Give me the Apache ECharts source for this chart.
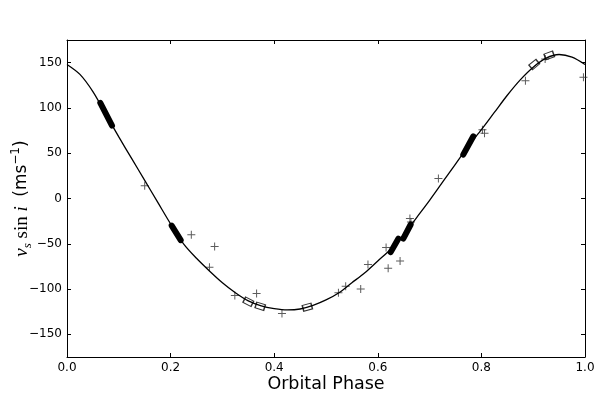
<!DOCTYPE html>
<html>
<head>
<meta charset="utf-8">
<script src="https://cdn.jsdelivr.net/npm/echarts@6/dist/echarts.min.js"></script>
<style>
html, body { margin: 0; padding: 0; background: #fff; }
#chart { width: 598px; height: 398px; }
</style>
</head>
<body>
<div id="chart"></div>
<script>
// orbit model curve
var curvePhase = [0, 0.025, 0.05, 0.075, 0.1, 0.125, 0.15, 0.175, 0.2, 0.225, 0.25, 0.275, 0.3, 0.325, 0.35, 0.375,
  0.4, 0.425, 0.45, 0.475, 0.5, 0.525, 0.55, 0.575, 0.6, 0.625, 0.65, 0.675, 0.7, 0.725, 0.75, 0.775,
  0.8, 0.825, 0.85, 0.875, 0.9, 0.925, 0.95, 0.975, 1.0];
var curveVel = [148, 137, 118, 93, 68, 44, 20, -4, -28, -50, -66, -80, -93, -104, -113, -118.5,
  -121.5, -123, -122, -118, -112, -104, -93, -82, -69, -56, -40, -21, -2, 18, 38, 58,
  76, 95, 114, 131, 145, 155, 159, 156, 148];

// single measurements (+)
var plusPhase = [0.150, 0.240, 0.285, 0.275, 0.324, 0.366, 0.415, 0.524, 0.538, 0.567, 0.581, 0.616,
  0.620, 0.643, 0.662, 0.664, 0.717, 0.802, 0.806, 0.885, 0.923, 0.997];
var plusVel = [14, -40, -53, -76, -107, -105, -127, -104, -97, -100, -73, -54,
  -77, -69, -22, -26, 22, 76, 72, 130, 154, 134];

// open boxes
var boxPhase = [0.350, 0.373, 0.464, 0.902, 0.931];
var boxVel = [-114, -119, -120, 148, 158];

// filled segments: start / end points
var segStartPhase = [0.0643, 0.2021, 0.6249, 0.6492, 0.7650];
var segStartVel = [105.5, -30, -59.2, -44.4, 48.5];
var segEndPhase = [0.0869, 0.2195, 0.6396, 0.6635, 0.7844];
var segEndVel = [80.5, -46, -44.4, -28.7, 68.7];

var xTicks = [0, 0.2, 0.4, 0.6, 0.8, 1.0];
var yTicks = [-150, -100, -50, 0, 50, 100, 150];

function velAt(p) {
  for (var i = 1; i < curvePhase.length; i++) {
    if (p <= curvePhase[i]) {
      var t = (p - curvePhase[i - 1]) / (curvePhase[i] - curvePhase[i - 1]);
      return curveVel[i - 1] + t * (curveVel[i] - curveVel[i - 1]);
    }
  }
  return curveVel[curveVel.length - 1];
}

var chart = echarts.init(document.getElementById('chart'));

var tickStyle = { show: true, inside: true, length: 4, lineStyle: { color: '#000', width: 1 } };
var lineStyle = { show: true, onZero: false, lineStyle: { color: '#000', width: 1 } };
var labelFont = { fontFamily: 'DejaVu Sans', fontSize: 12, color: '#000' };

function yFmt(v) { return v < 0 ? '\u2212' + (-v) : String(v); }

var segSeries = segStartPhase.map(function (p, i) {
  return {
    type: 'line',
    data: [[p, segStartVel[i]], [segEndPhase[i], segEndVel[i]]],
    showSymbol: false,
    lineStyle: { color: '#000', width: 6, cap: 'round' },
    z: 4,
    silent: true
  };
});

var option = {
  animation: false,
  grid: { left: 67, right: 13, top: 40, bottom: 41, outerBoundsMode: 'none', containLabel: false },
  xAxis: [
    {
      type: 'value', min: 0, max: 1, interval: 0.2, position: 'bottom',
      name: 'Orbital Phase', nameLocation: 'middle', nameGap: 18, nameMoveOverlap: false,
      nameTextStyle: { fontFamily: 'DejaVu Sans', fontSize: 17.5, color: '#000' },
      axisLine: lineStyle, axisTick: tickStyle, splitLine: { show: false },
      axisLabel: Object.assign({ margin: 5, formatter: function (v) { return v.toFixed(1); } }, labelFont)
    },
    {
      type: 'value', min: 0, max: 1, interval: 0.2, position: 'top',
      axisLine: lineStyle, axisTick: tickStyle, splitLine: { show: false }, axisLabel: { show: false }
    }
  ],
  yAxis: [
    {
      type: 'value', min: -175, max: 175, position: 'left',
      name: '{it|v}{sub|s}{rm| sin }{it|i}{sp|  }{sn|(ms}{sup|\u22121}{sn|)}',
      nameLocation: 'middle', nameGap: 33, nameRotate: 90, nameMoveOverlap: false,
      nameTextStyle: {
        rich: {
          it: { fontFamily: 'Liberation Serif', fontStyle: 'italic', fontSize: 19, lineHeight: 24, color: '#000' },
          rm: { fontFamily: 'Liberation Serif', fontSize: 19, lineHeight: 24, color: '#000' },
          sub: { fontFamily: 'Liberation Serif', fontStyle: 'italic', fontSize: 13, lineHeight: 12, verticalAlign: 'bottom', color: '#000' },
          sp: { fontSize: 17, lineHeight: 24 },
          sn: { fontFamily: 'DejaVu Sans', fontSize: 17, lineHeight: 24, color: '#000' },
          sup: { fontFamily: 'DejaVu Sans', fontSize: 12, lineHeight: 12, verticalAlign: 'top', color: '#000' }
        }
      },
      axisLine: lineStyle,
      axisTick: Object.assign({ customValues: yTicks }, tickStyle),
      splitLine: { show: false },
      axisLabel: Object.assign({ margin: 5, customValues: yTicks, formatter: yFmt }, labelFont)
    },
    {
      type: 'value', min: -175, max: 175, position: 'right',
      axisLine: lineStyle,
      axisTick: Object.assign({ customValues: yTicks }, tickStyle),
      splitLine: { show: false }, axisLabel: { show: false }
    }
  ],
  series: [
    {
      type: 'line', smooth: 0.3, showSymbol: false, silent: true,
      data: curvePhase.map(function (p, i) { return [p, curveVel[i]]; }),
      lineStyle: { color: '#000', width: 1.3 }, z: 3
    },
    {
      type: 'scatter', silent: true,
      symbol: 'path://M0,3.5H8V4.5H0Z M3.5,0H4.5V8H3.5Z', symbolSize: 8,
      itemStyle: { color: '#333' },
      data: plusPhase.map(function (p, i) { return [p, plusVel[i]]; }), z: 2
    },
    {
      id: 'boxes', type: 'scatter', silent: true,
      symbol: 'rect', symbolSize: [9, 6],
      itemStyle: { color: 'rgba(0,0,0,0)', borderColor: '#000', borderWidth: 1.2 },
      data: boxPhase.map(function (p, i) { return [p, boxVel[i]]; }), z: 5
    }
  ].concat(segSeries)
};
chart.setOption(option);

// turn the open boxes along the curve
var boxData = boxPhase.map(function (p, i) {
  var a = chart.convertToPixel({ xAxisIndex: 0, yAxisIndex: 0 }, [p - 0.01, velAt(p - 0.01)]);
  var b = chart.convertToPixel({ xAxisIndex: 0, yAxisIndex: 0 }, [p + 0.01, velAt(p + 0.01)]);
  var ang = Math.atan2(a[1] - b[1], b[0] - a[0]) * 180 / Math.PI;
  return { value: [p, boxVel[i]], symbolRotate: ang };
});
chart.setOption({ series: [{ id: 'boxes', data: boxData }] });
</script>
</body>
</html>
